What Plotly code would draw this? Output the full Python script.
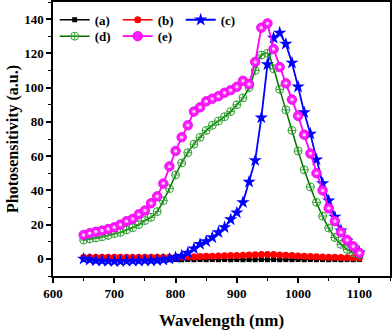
import plotly.graph_objects as go

wavelength = [650, 660, 670, 680, 690, 700, 710, 720, 730, 740, 750, 760, 770, 780, 790,
              800, 810, 820, 830, 840, 850, 860, 870, 880, 890, 900, 910, 920, 930, 940,
              950, 960, 970, 980, 990, 1000, 1010, 1020, 1030, 1040, 1050, 1060, 1070,
              1080, 1090, 1100]

series_a = [-0.4, -0.4, -0.5, -0.4, -0.5, -0.4, -0.5, -0.4, -0.5, -0.4, -0.5, -0.4, -0.5,
            -0.4, -0.5, -0.4, -0.5, -0.4, -0.5, -0.4, -0.5, -0.4, -0.5, -0.4, -0.5, -0.4,
            -0.5, -0.4, -0.5, -0.4, -0.5, -0.4, -0.5, -0.4, -0.5, -0.4, -0.5, -0.4, -0.5,
            -0.4, -0.5, -0.4, -0.5, -0.4, -0.5, -0.4]

series_b = [1.0, 1.0, 1.0, 1.0, 1.0, 1.0, 1.0, 1.0, 1.0, 1.0, 1.0, 1.0, 1.0, 1.0, 1.0,
            1.0, 1.1, 1.2, 1.3, 1.4, 1.5, 1.6, 1.7, 1.8, 1.9, 2.0, 2.1, 2.2, 2.4, 2.5,
            2.6, 2.5, 2.3, 2.1, 1.9, 1.7, 1.5, 1.4, 1.2, 1.1, 1.0, 0.9, 0.8, 0.7, 0.6, 0.5]

series_c = [0.0, -0.5, -1.0, -1.2, -1.3, -1.5, -1.5, -1.3, -1.2, -1.2, -1.0, -1.0, -0.8,
            -0.5, 0.0, 0.8, 1.8, 3.5, 6.0, 8.6, 10.2, 12.5, 15.5, 18.4, 23.0, 27.0, 33.0,
            45.0, 57.5, 82.5, 113.5, 129.0, 132.0, 125.5, 114.5, 100.5, 85.5, 73.0, 58.0,
            44.0, 34.0, 24.5, 16.5, 10.5, 6.5, 3.7]

series_d = [11.0, 11.6, 12.2, 12.9, 13.7, 14.7, 15.5, 16.9, 18.2, 20.0, 22.4, 24.3, 27.6,
            34.0, 41.0, 49.0, 56.0, 62.0, 67.0, 71.0, 75.0, 78.0, 80.5, 83.0, 86.0, 90.0,
            94.0, 100.0, 110.0, 119.0, 120.0, 111.0, 99.0, 87.0, 75.0, 63.0, 52.0, 42.0,
            33.0, 25.0, 18.0, 12.5, 8.5, 5.5, 3.5, 2.5]

series_e = [14.0, 15.0, 15.8, 16.5, 17.4, 18.4, 20.0, 22.0, 23.3, 26.0, 28.2, 32.5, 36.5,
            44.0, 54.0, 63.0, 71.0, 78.0, 86.0, 88.5, 92.0, 93.5, 95.0, 97.0, 98.5, 100.5,
            104.0, 102.0, 115.0, 135.0, 137.5, 122.5, 112.0, 102.5, 93.0, 83.5, 72.5, 61.5,
            50.0, 40.0, 29.5, 22.0, 15.5, 11.0, 7.3, 3.5]

labels = ["(a)", "(b)", "(c)", "(d)", "(e)"]
x_ticks = [600, 700, 800, 900, 1000, 1100]
y_ticks = [0, 20, 40, 60, 80, 100, 120, 140]

FONT = "Liberation Serif"

fig = go.Figure()

fig.add_trace(go.Scatter(
    x=wavelength, y=series_a, name=labels[0], mode="lines+markers",
    line=dict(color="black", width=1.5),
    marker=dict(symbol="square", size=5, color="black"), legend="legend"))
fig.add_trace(go.Scatter(
    x=wavelength, y=series_b, name=labels[1], mode="lines+markers",
    line=dict(color="red", width=1.5),
    marker=dict(symbol="circle", size=7, color="red"), legend="legend"))
fig.add_trace(go.Scatter(
    x=wavelength, y=series_c, name=labels[2], mode="lines+markers",
    line=dict(color="#0000ff", width=1.8),
    marker=dict(symbol="star", size=10, color="#0000ff"), legend="legend"))
fig.add_trace(go.Scatter(
    x=wavelength, y=series_d, name=labels[3], mode="lines+markers",
    line=dict(color="#007000", width=1.5, shape="spline", smoothing=1.0),
    marker=dict(symbol="circle-cross-open", size=8, color="#33a033",
                line=dict(width=1, color="#33a033")), legend="legend2"))
fig.add_trace(go.Scatter(
    x=wavelength, y=series_e, name=labels[4], mode="lines+markers",
    line=dict(color="#ff00ff", width=1.8),
    marker=dict(symbol="circle", size=9.5, color="#ff1aff",
                line=dict(width=0.8, color="#e000e0")), legend="legend2"))
fig.add_trace(go.Scatter(
    x=wavelength, y=series_e, mode="markers", showlegend=False, hoverinfo="skip",
    marker=dict(symbol="circle", size=3.5, color="#ffc8ff")))

axis_common = dict(
    showline=True, linecolor="black", linewidth=1.5, mirror=True,
    ticks="outside", tickcolor="black", ticklen=5, tickwidth=1.5,
    showgrid=False, zeroline=False, automargin=False,
    tickfont=dict(family=FONT, size=13, color="black", weight="bold"),
)

fig.update_xaxes(
    range=[600, 1150], tickvals=x_ticks,
    minor=dict(ticks="outside", ticklen=3, tickcolor="black", tickwidth=1, dtick=50, tick0=600),
    title=dict(text="Wavelength (nm)", font=dict(family=FONT, size=17, color="black", weight="bold"),
               standoff=14),
    **axis_common)
fig.update_yaxes(
    range=[-10, 150], tickvals=y_ticks,
    minor=dict(ticks="outside", ticklen=3, tickcolor="black", tickwidth=1, dtick=10, tick0=0),
    title=dict(text="Photosensitivity (a.u.)", font=dict(family=FONT, size=16, color="black", weight="bold"),
               standoff=2),
    **axis_common)

legend_common = dict(
    orientation="h", xanchor="left", yanchor="middle",
    bgcolor="rgba(0,0,0,0)", borderwidth=0,
    font=dict(family=FONT, size=13, color="black", weight="bold"),
    entrywidth=18, entrywidthmode="pixels", itemwidth=30,
    tracegroupgap=0,
)

fig.update_layout(
    width=392, height=331,
    margin=dict(l=53, r=2, t=2, b=55, autoexpand=False),
    plot_bgcolor="white", paper_bgcolor="white",
    legend=dict(x=0.005, y=0.935, **legend_common),
    legend2=dict(x=0.005, y=0.875, **legend_common),
)

fig.write_html("out.html", config={"displayModeBar": False},
               post_script="document.body.style.margin='0';")
